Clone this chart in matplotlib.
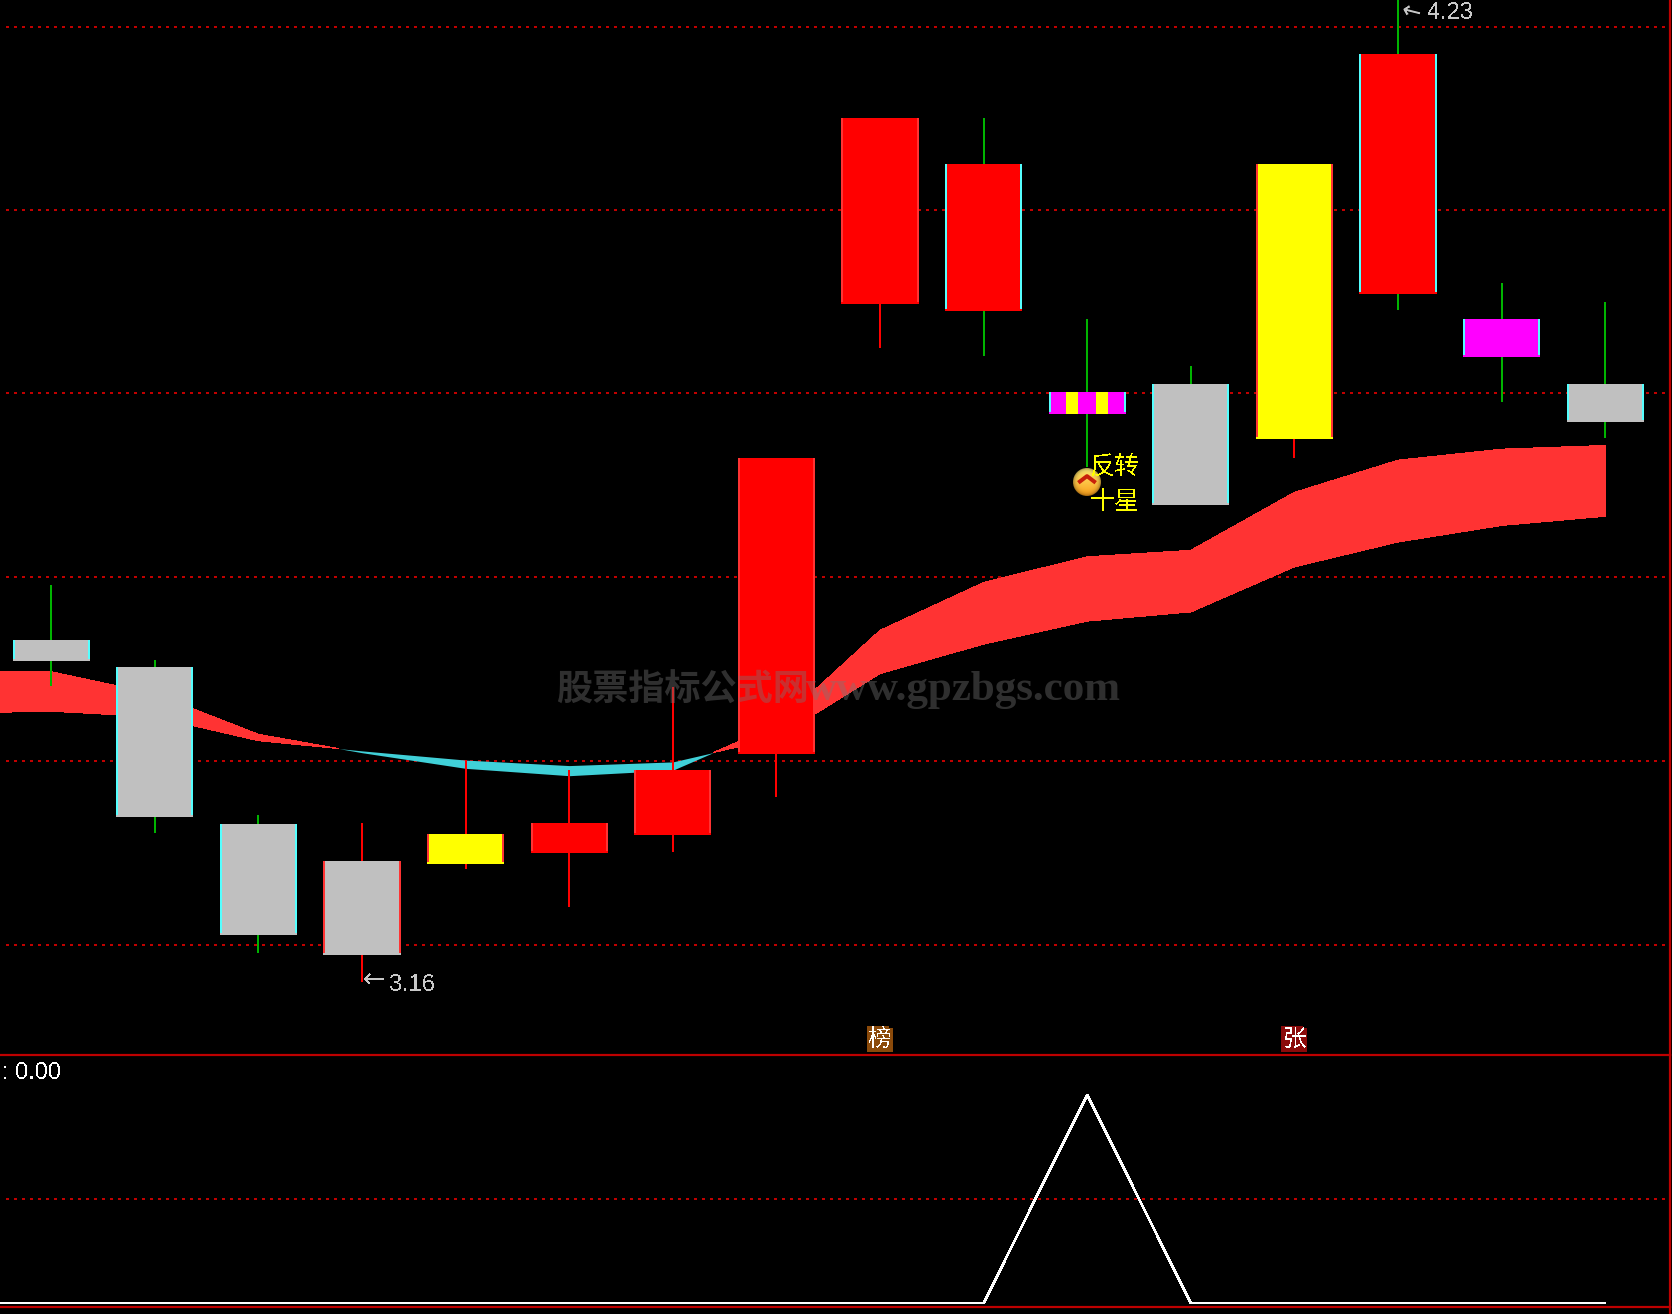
import numpy as np
import matplotlib
matplotlib.use("Agg")
import matplotlib.pyplot as plt
from matplotlib.patches import Polygon, Circle
from matplotlib.lines import Line2D
from matplotlib.transforms import Affine2D

W, H = 1672, 1314

# ---- data -----------------------------------------------------------
body_top = [3.532, 3.502, 3.332, 3.291, 3.321, 3.333, 3.390, 3.729,
            4.099, 4.049, 3.801, 3.810, 4.049, 4.168, 3.880, 3.810]
body_bot = [3.509, 3.339, 3.211, 3.189, 3.288, 3.300, 3.320, 3.408,
            3.897, 3.889, 3.777, 3.678, 3.750, 3.908, 3.839, 3.769]
high = [3.591, 3.510, 3.341, 3.333, 3.401, 3.390, 3.480, 3.729,
        4.099, 4.099, 3.880, 3.829, 4.049, 4.230, 3.920, 3.899]
low = [3.482, 3.322, 3.191, 3.160, 3.283, 3.241, 3.301, 3.361,
       3.849, 3.840, 3.720, 3.678, 3.729, 3.890, 3.790, 3.751]
fill_colors = ['#C0C0C0', '#C0C0C0', '#C0C0C0', '#C0C0C0', '#FFFF00', '#FF0000', '#FF0000', '#FF0000',
               '#FF0000', '#FF0000', '#FF00FF', '#C0C0C0', '#FFFF00', '#FF0000', '#FF00FF', '#C0C0C0']
edge_colors = ['#55FFFF', '#55FFFF', '#55FFFF', '#FF3333', '#FF3333', '#FF3333', '#FF3333', '#FF3333',
               '#FF3333', '#55FFFF', '#55FFFF', '#55FFFF', '#FF3333', '#55FFFF', '#55FFFF', '#55FFFF']
wick_colors = ['#00B400', '#00B400', '#00B400', '#FF0000', '#FF0000', '#FF0000', '#FF0000', '#FF0000',
               '#FF0000', '#00B400', '#00B400', '#00B400', '#FF0000', '#00B400', '#00B400', '#00B400']
stripe_bar = 10
stripe_spans = [(0.231, 0.385), (0.615, 0.769)]

band_x = list(range(-1, 16))
band_fast = [3.497, 3.497, 3.473, 3.429, 3.409, 3.392, 3.384, 3.390, 3.439,
             3.542, 3.594, 3.622, 3.629, 3.692, 3.727, 3.739, 3.743]
band_slow = [3.452, 3.454, 3.448, 3.422, 3.411, 3.401, 3.395, 3.399, 3.425,
             3.495, 3.527, 3.552, 3.562, 3.611, 3.638, 3.656, 3.666]

grid_prices = [3.2, 3.4, 3.6, 3.8, 3.999, 4.198]
sub_x = list(range(-1, 16))
sub_values = [0, 0, 0, 0, 0, 0, 0, 0, 0, 0, 0, 1, 0, 0, 0, 0, 0]
sub_grid = [0.5]

arrow_glyph = "←"
low_label = "3.16"
high_label = "4.23"
signal_lines = ["反转", "十星"]
sub_label = ": 0.00"
badges = [("榜", 8, "#8B4A0A"), ("张", 12, "#8B0A0A")]
watermark_cn = "股票指标公式网"
watermark_en = "www.gpzbgs.com"

# ---- layout ---------------------------------------------------------
RED = '#BE0000'
px = 72 / 100
fig = plt.figure(figsize=(W / 100, H / 100), dpi=100, facecolor='black')
to_px = Affine2D().scale(1, -1).translate(0, H)

right = 1670
split = 1055
bottom = 1307
ax = fig.add_axes([0, 1 - split / H, right / W, split / H], facecolor='black')
sub = fig.add_axes([0, 1 - bottom / H, right / W, (bottom - split) / H], facecolor='black')

xlim = (-0.494, 15.625)
ax.set_xlim(*xlim)
ax.set_ylim(3.0804, 4.2272)
sub.set_xlim(*xlim)
sub.set_ylim(-0.019, 1.192)

for a in (ax, sub):
    a.set_xticks([])
    a.set_yticks([])
    for s in a.spines.values():
        s.set_visible(False)
ax.spines['right'].set_visible(True)
ax.spines['right'].set_color(RED)
ax.spines['right'].set_linewidth(2.2 * px)
for s in ('top', 'bottom', 'right'):
    sub.spines[s].set_visible(True)
    sub.spines[s].set_color(RED)
    sub.spines[s].set_linewidth(2.2 * px)
fig.add_artist(Line2D([right, right], [bottom, H], transform=to_px, color=RED, lw=2.2 * px))

grid_style = dict(color='#C00000', lw=2.2 * px, dashes=(1, 2.64), xmin=6 / right,
                  zorder=1, antialiased=False, dash_capstyle='butt')
for g in grid_prices:
    ax.axhline(g, **grid_style)
for g in sub_grid:
    sub.axhline(g, **grid_style)

# ---- band ------------------------------------------------------------
bx = np.array(band_x, float)
fast = np.array(band_fast)
slow = np.array(band_slow)
ax.fill_between(bx, fast, slow, where=fast >= slow, interpolate=True,
                color='#FF3333', lw=0, zorder=2, antialiased=False)
ax.fill_between(bx, fast, slow, where=fast <= slow, interpolate=True,
                color='#40D0D8', lw=0, zorder=2, antialiased=False)

# ---- candles ---------------------------------------------------------
bar_w = 0.745
thin = 2 / 103.6            # two pixels wide, in bar units
xs = np.arange(len(body_top))
for i in xs:
    ax.bar(i, high[i] - low[i], thin, bottom=low[i], color=wick_colors[i], lw=0,
           zorder=3, antialiased=False)
    ax.bar(i, body_top[i] - body_bot[i], bar_w, bottom=body_bot[i],
           color=fill_colors[i], lw=0, zorder=4, antialiased=False)
    for side in (-1, 1):
        ax.bar(i + side * (bar_w - thin) / 2, body_top[i] - body_bot[i] - 0.002, thin,
               bottom=body_bot[i] + 0.002, color=edge_colors[i], lw=0, zorder=5, antialiased=False)
for a0, a1 in stripe_spans:
    left = stripe_bar - bar_w / 2 + a0 * bar_w
    ax.bar(left, body_top[stripe_bar] - body_bot[stripe_bar], (a1 - a0) * bar_w,
           bottom=body_bot[stripe_bar], align='edge', color='#FFFF00', lw=0, zorder=5,
           antialiased=False)

# ---- labels ----------------------------------------------------------
LABEL_FONT = ['Liberation Sans', 'DejaVu Sans']
fig.text(374, 981, arrow_glyph, transform=to_px, color='#C8C8C8', fontsize=19, family=['DejaVu Sans'],
         ha='center', va='center', zorder=7, antialiased=False)
fig.text(389, 991, low_label, transform=to_px, color='#C8C8C8', fontsize=17, family=LABEL_FONT,
         ha='left', va='baseline', zorder=7, antialiased=False)
fig.text(1411, 12, arrow_glyph, transform=to_px, color='#C8C8C8', fontsize=17, family=['DejaVu Sans'],
         ha='center', va='center', rotation=-14, rotation_mode='anchor', zorder=7, antialiased=False)
fig.text(1428, 19, high_label, transform=to_px, color='#C8C8C8', fontsize=17, family=LABEL_FONT,
         ha='left', va='baseline', zorder=7, antialiased=False)
for line, yy in zip(signal_lines, (468, 502)):
    fig.text(1115, yy, line, transform=to_px, color='#FFFF00', fontsize=18,
             family=['Noto Sans CJK SC'], ha='center', va='center', zorder=8, antialiased=False)

# signal icon
ic = fig.add_axes([1073 / W, 1 - 496 / H, 28 / W, 28 / H], facecolor='none', zorder=6)
ic.axis('off')
yy_, xx_ = np.mgrid[1:-1:28j, -1:1:28j]
rr = np.clip(np.sqrt(xx_**2 + yy_**2), 0, 1)
top_c = np.array([1.0, 0.92, 0.45])
low_c = np.array([0.98, 0.62, 0.10])
mix = ((yy_ + 1) / 2)[..., None]
img = mix * top_c + (1 - mix) * low_c
img = img * (1 - 0.3 * (rr[..., None] ** 6))
im = ic.imshow(img, extent=(-1, 1, -1, 1), aspect='auto', zorder=1)
im.set_clip_path(Circle((0, 0), 1, transform=ic.transData))
ic.plot([-0.62, 0, 0.62], [-0.05, 0.42, -0.05], color='#C8200A', lw=4 * px, zorder=2,
        solid_capstyle='butt')
ic.set_xlim(-1, 1)
ic.set_ylim(-1, 1)

# badges
for ch, bar, col in badges:
    xc = 51.2 + 103.6 * bar
    x0, x1, y0, y1 = xc - 13, xc + 13, 1026, 1052
    fig.add_artist(Polygon([(x0, y0), (x1 - 4, y0), (x1 - 4, y0 + 2), (x1, y0 + 2), (x1, y1), (x0, y1)],
                           closed=True, transform=to_px, facecolor=col, edgecolor='none', zorder=6))
    fig.text(xc, 1039, ch, transform=to_px, color='white', fontsize=17,
             family=['Noto Sans CJK SC'], ha='center', va='center', zorder=7,
             antialiased=False)

# ---- sub panel -------------------------------------------------------
sub.plot(np.array(sub_x, float), sub_values, color='white', lw=1.7 * px, zorder=3, antialiased=False,
         solid_joinstyle='miter', solid_capstyle='butt')
fig.text(2, 1079, sub_label, transform=to_px, color='white', fontsize=17, family=LABEL_FONT,
         ha='left', va='baseline', zorder=7, antialiased=False)

# ---- watermark -------------------------------------------------------
fig.text(556, 690, watermark_cn, transform=to_px, color='#787878', alpha=0.4, fontsize=26,
         family=['Noto Sans CJK SC'], fontweight='bold', ha='left', va='center', zorder=20)
fig.text(806, 690, watermark_en, transform=to_px, color='#787878', alpha=0.4, fontsize=31,
         family=['Liberation Serif'], fontweight='bold', ha='left', va='center', zorder=20)

fig.savefig('out.png', dpi=100, facecolor='black')
